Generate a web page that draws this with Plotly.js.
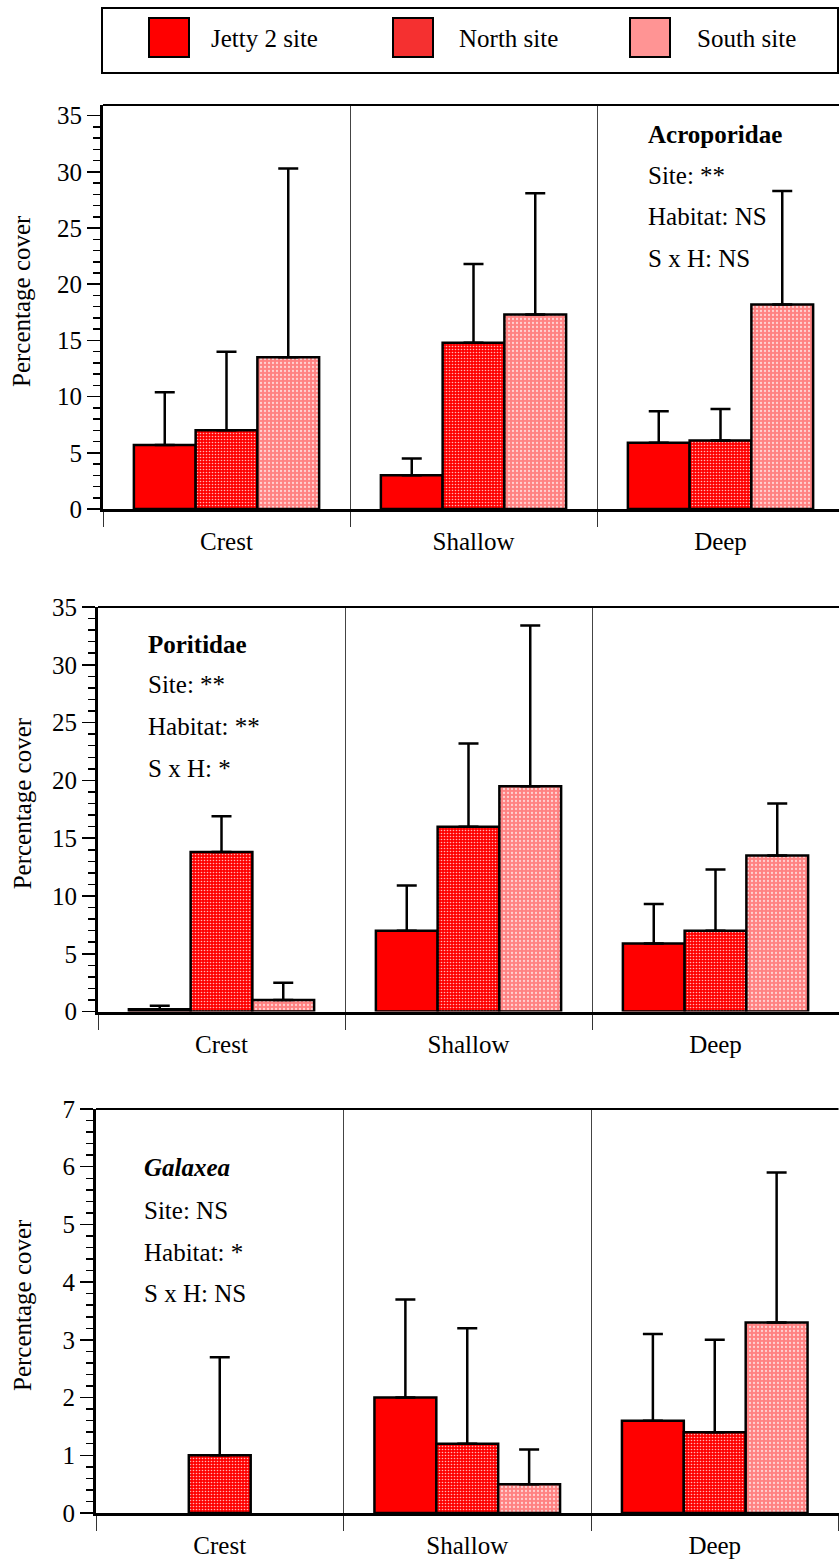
<!DOCTYPE html>
<html>
<head>
<meta charset="utf-8">
<script src="https://cdn.plot.ly/plotly-3.0.1.min.js"></script>
<style>
  html, body { margin: 0; padding: 0; overflow: hidden; background: #fff; }
  #chart { width: 845px; height: 1564px; }
</style>
</head>
<body>
<div id="chart"></div>
<script>
// ---------------- DATA ----------------
const habitats = ['Crest', 'Shallow', 'Deep'];
const sites = ['Jetty 2 site', 'North site', 'South site'];

// Acroporidae (mean, SE upward)
const acroJetty = [5.7, 3.0, 5.9];
const acroJettySE = [4.7, 1.5, 2.8];
const acroNorth = [7.0, 14.8, 6.1];
const acroNorthSE = [7.0, 7.0, 2.8];
const acroSouth = [13.5, 17.3, 18.2];
const acroSouthSE = [16.8, 10.8, 10.1];
const acroTitle = 'Acroporidae';
const acroStats = ['Site: **', 'Habitat: NS', 'S x H: NS'];

// Poritidae
const poriJetty = [0.2, 7.0, 5.9];
const poriJettySE = [0.3, 3.9, 3.4];
const poriNorth = [13.8, 16.0, 7.0];
const poriNorthSE = [3.1, 7.2, 5.3];
const poriSouth = [1.0, 19.5, 13.5];
const poriSouthSE = [1.5, 13.9, 4.5];
const poriTitle = 'Poritidae';
const poriStats = ['Site: **', 'Habitat: **', 'S x H: *'];

// Galaxea
const galaJetty = [0, 2.0, 1.6];
const galaJettySE = [0, 1.7, 1.5];
const galaNorth = [1.0, 1.2, 1.4];
const galaNorthSE = [1.7, 2.0, 1.6];
const galaSouth = [0, 0.5, 3.3];
const galaSouthSE = [0, 0.6, 2.6];
const galaTitle = '<i>Galaxea</i>';
const galaStats = ['Site: NS', 'Habitat: *', 'S x H: NS'];

const yTitle = 'Percentage cover';

// ---------------- LAYOUT HELPERS ----------------
const W = 845, H = 1564;
const px = x => x / W;
const py = y => 1 - y / H;
const FONT = '"Liberation Serif", "Times New Roman", Times, serif';
const FS = 25;

const siteStyles = [
  { color: '#ff0000', pattern: { shape: '' } },
  { color: '#ff0000', pattern: { shape: '.', bgcolor: '#ff0000', fgcolor: '#ffb4b4', size: 3, solidity: 0.22, fillmode: 'replace' } },
  { color: '#ff8080', pattern: { shape: '.', bgcolor: '#ff8282', fgcolor: '#ffd2d2', size: 4, solidity: 0.25, fillmode: 'replace' } }
];
const legendFill = ['#ff0000', '#f53030', '#ff9494'];

const panels = [
  { means: [acroJetty, acroNorth, acroSouth], se: [acroJettySE, acroNorthSE, acroSouthSE],
    title: acroTitle, stats: acroStats,
    x0: 103, x1: 844, y0: 105, y1: 509, ymax: 35.95, dtick: 5, minor: 1,
    textX: 648, textY: [134.6, 175.6, 216.6, 258.6] },
  { means: [poriJetty, poriNorth, poriSouth], se: [poriJettySE, poriNorthSE, poriSouthSE],
    title: poriTitle, stats: poriStats,
    x0: 98, x1: 839, y0: 607, y1: 1011.6, ymax: 35, dtick: 5, minor: 1,
    textX: 148, textY: [644, 685, 727, 768] },
  { means: [galaJetty, galaNorth, galaSouth], se: [galaJettySE, galaNorthSE, galaSouthSE],
    title: galaTitle, stats: galaStats,
    x0: 96, x1: 838.5, y0: 1109, y1: 1513, ymax: 7, dtick: 1, minor: 0.2,
    textX: 144, textY: [1167, 1210, 1252, 1293] }
];

const data = [];
const layout = {
  width: W, height: H,
  margin: { l: 0, r: 0, t: 0, b: 0 },
  paper_bgcolor: '#fff', plot_bgcolor: '#fff',
  font: { family: FONT, size: FS, color: '#000' },
  barmode: 'group', bargap: 0.25, bargroupgap: 0,
  showlegend: false,
  shapes: [], annotations: []
};

panels.forEach((p, i) => {
  const n = i + 1;
  const xa = 'x' + (n === 1 ? '' : n), ya = 'y' + (n === 1 ? '' : n);
  const xk = 'xaxis' + (n === 1 ? '' : n), yk = 'yaxis' + (n === 1 ? '' : n);
  sites.forEach((s, j) => {
    // a zero mean is drawn as no bar at all, as in the original figure
    const ys = p.means[j].map(v => (v === 0 ? null : v));
    data.push({
      type: 'bar', name: s, x: habitats, y: ys,
      xaxis: xa, yaxis: ya,
      marker: { color: siteStyles[j].color, pattern: siteStyles[j].pattern, line: { color: '#000', width: 2.5 } },
      error_y: { type: 'data', array: p.se[j], symmetric: false, arrayminus: p.se[j].map(() => 0),
                 color: '#000', thickness: 2.5, width: 10 },
      hoverinfo: 'skip'
    });
  });
  layout[xk] = {
    domain: [px(p.x0), px(p.x1)], anchor: ya, type: 'category',
    range: [-0.5, 2.5], tickson: 'boundaries',
    ticks: 'outside', ticklen: 15, tickwidth: 1, tickcolor: '#333',
    showgrid: true, gridcolor: '#444', gridwidth: 1,
    showline: true, linecolor: '#000', linewidth: 3,
    tickfont: { family: FONT, size: FS, color: '#000' },
    ticklabelstandoff: 8, fixedrange: true
  };
  layout[yk] = {
    domain: [py(p.y1), py(p.y0)], anchor: xa,
    range: [0, p.ymax], tick0: 0, dtick: p.dtick,
    ticks: 'outside', ticklen: 13, tickwidth: 1.5, tickcolor: '#000',
    minor: { dtick: p.minor, tick0: 0, ticks: 'outside', ticklen: 7, tickwidth: 1.5, tickcolor: '#000', showgrid: false },
    showgrid: false, zeroline: false,
    showline: true, linecolor: '#000', linewidth: 3,
    tickfont: { family: FONT, size: FS, color: '#000' },
    fixedrange: true
  };
  // top border
  layout.shapes.push({ type: 'line', xref: xa + ' domain', yref: ya + ' domain', x0: 0, x1: 1, y0: 1, y1: 1,
                       line: { color: '#000', width: 2 } });
  // y title
  layout.annotations.push({ text: yTitle, xref: 'paper', yref: 'paper', x: px(22), y: py((p.y0 + p.y1) / 2 - 6),
    textangle: -90, showarrow: false, xanchor: 'center', yanchor: 'middle', font: { family: FONT, size: FS } });
  // stats text
  const lines = ['<b>' + p.title + '</b>'].concat(p.stats);
  lines.forEach((t, k) => {
    layout.annotations.push({ text: t, xref: 'paper', yref: 'paper', x: px(p.textX - 2), y: py(p.textY[k]),
      showarrow: false, xanchor: 'left', yanchor: 'middle', font: { family: FONT, size: FS } });
  });
});

// legend box
layout.shapes.push({ type: 'rect', xref: 'paper', yref: 'paper', x0: px(102), x1: px(838), y0: py(73), y1: py(8),
                     line: { color: '#000', width: 2 }, fillcolor: 'rgba(0,0,0,0)' });
const swX = [149, 393, 630];
const txX = [211, 459, 697];
sites.forEach((s, j) => {
  layout.shapes.push({ type: 'rect', xref: 'paper', yref: 'paper', x0: px(swX[j]), x1: px(swX[j] + 40), y0: py(57), y1: py(18),
                       line: { color: '#000', width: 2 }, fillcolor: legendFill[j] });
  layout.annotations.push({ text: s, xref: 'paper', yref: 'paper', x: px(txX[j] - 2), y: py(38.3),
    showarrow: false, xanchor: 'left', yanchor: 'middle', font: { family: FONT, size: FS } });
});

Plotly.newPlot('chart', data, layout, { displayModeBar: false, staticPlot: true });
</script>
</body>
</html>
